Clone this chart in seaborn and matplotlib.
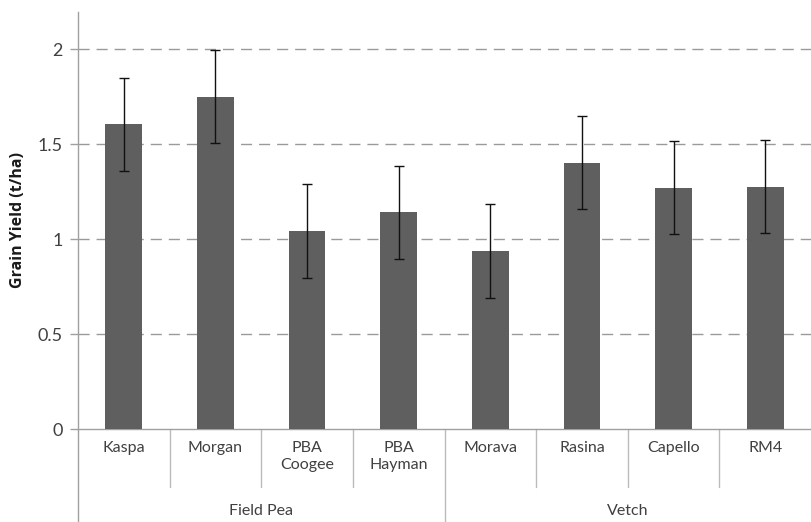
import matplotlib
matplotlib.use("Agg")
import matplotlib.pyplot as plt
import matplotlib.transforms as mtrans
import seaborn as sns
import pandas as pd

cultivars = ["Kaspa", "Morgan", "PBA\nCoogee", "PBA\nHayman", "Morava", "Rasina", "Capello", "RM4"]
groups = ["Field Pea", "Vetch"]
group_sizes = [4, 4]
yield_vals = [1.605, 1.750, 1.042, 1.142, 0.937, 1.402, 1.270, 1.275]
yield_err = [0.245, 0.245, 0.245, 0.245, 0.245, 0.245, 0.245, 0.245]
yticks = [0, 0.5, 1, 1.5, 2]
ytick_labels = ["0", "0.5", "1", "1.5", "2"]

sns.set_style("white")
plt.rcParams['font.family'] = ['Lato', 'DejaVu Sans']

df = pd.DataFrame({"cultivar": cultivars, "yield": yield_vals})

W, H = 811, 522
fig = plt.figure(figsize=(W / 100, H / 100), dpi=100)
ax = fig.add_axes([78 / W, 1 - 429 / H, (811 - 78) / W, (429 - 12) / H])

sns.barplot(data=df, x="cultivar", y="yield", color="#5f5f5f", saturation=1,
            width=0.4, ax=ax, errorbar=None, zorder=3)
for p in ax.patches:
    p.set_edgecolor("none")

centers = [p.get_x() + p.get_width() / 2 for p in ax.patches]
ax.errorbar(centers, yield_vals, yerr=yield_err, fmt="none", ecolor="#111111",
            elinewidth=1, capsize=3.3, capthick=1, zorder=4)

ax.set_xlim(-0.5, len(cultivars) - 0.5)
ax.set_ylim(0, 2.195)
ax.set_yticks(yticks)
ax.set_yticklabels(ytick_labels, fontsize=13, color="#404040")
ax.tick_params(axis="y", length=6, color="#a0a0a0", width=1, pad=5, left=True)
ax.tick_params(axis="x", length=0, labelbottom=False)
ax.set_xlabel("")
ax.set_ylabel("Grain Yield (t/ha)", fontsize=11.5, fontweight="bold", color="#1a1a1a",
              labelpad=8, family=["Open Sans", "DejaVu Sans"])

for y in yticks[1:]:
    ax.axhline(y, color="#9a9a9a", lw=1, dashes=(8, 5), zorder=1)

for s in ["top", "right"]:
    ax.spines[s].set_visible(False)
ax.spines["bottom"].set_color("#a0a0a0")
ax.spines["left"].set_color("#a0a0a0")
ax.spines["bottom"].set_linewidth(1)
ax.spines["left"].set_linewidth(1)

trans = mtrans.blended_transform_factory(ax.transData, ax.transAxes)
px = 1.0 / (429 - 12)  # axes fraction per pixel in y

# cultivar labels
for i, lab in enumerate(cultivars):
    ax.text(i, -12 * px, lab, transform=trans, ha="center", va="top",
            fontsize=11.5, color="#404040", linespacing=1.25)

# dividers
start = 0
bounds = []
for gs in group_sizes:
    bounds.append((start, start + gs))
    start += gs
for i in range(1, len(cultivars)):
    is_major = i in [b[0] for b in bounds[1:]]
    ybot = -(522 - 429) * px if is_major else -58 * px
    ax.plot([i - 0.5, i - 0.5], [0, ybot], transform=trans, color="#bbbbbb",
            lw=1, clip_on=False)
ax.plot([-0.5, -0.5], [0, -(522 - 429) * px], transform=trans, color="#a0a0a0",
        lw=1, clip_on=False)

# group labels
for (a, b), g in zip(bounds, groups):
    ax.text((a + b - 1) / 2, -75 * px, g, transform=trans, ha="center", va="top",
            fontsize=11.5, color="#404040")

fig.savefig("out.png", dpi=100)
